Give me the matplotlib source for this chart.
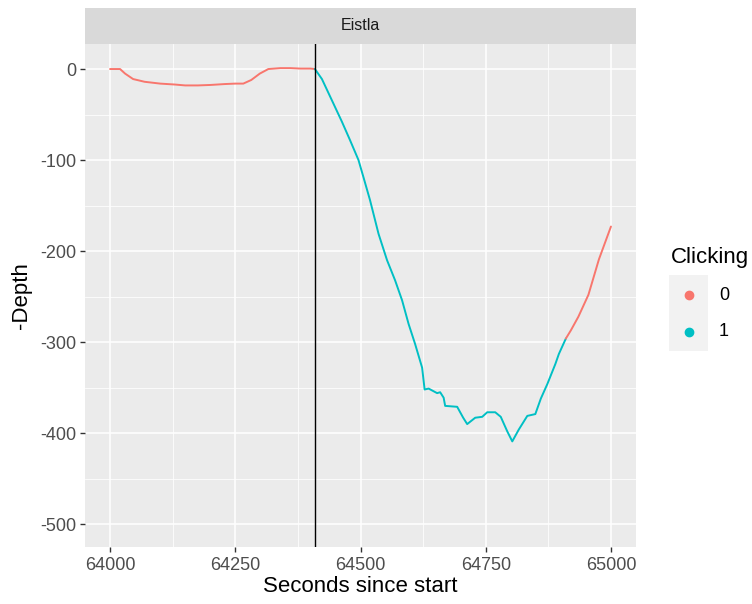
import matplotlib
matplotlib.use("Agg")
import matplotlib.pyplot as plt
from matplotlib.lines import Line2D
from matplotlib.patches import Rectangle

# ---- data ----
t_pre = [64000, 64010, 64020, 64030, 64046, 64069, 64100, 64129, 64150, 64175, 64200,
         64229, 64250, 64266, 64282, 64299, 64316, 64340, 64360, 64380, 64400, 64409]
d_pre = [0, 0, 0, -5, -11, -14, -16, -17, -18, -18, -17.5,
         -16.5, -16, -16, -12, -5, 0, 1, 1, 0.5, 0.5, 0]

t_click = [64409, 64423, 64446, 64463, 64479, 64496, 64506, 64519, 64536, 64553, 64569,
           64583, 64596, 64609, 64623, 64628, 64636, 64653, 64659, 64666, 64669, 64693,
           64705, 64713, 64729, 64743, 64753, 64769, 64780, 64793, 64803, 64816, 64833,
           64849, 64860, 64873, 64889, 64896, 64910]
d_click = [0, -11, -38, -58, -78, -100, -119, -144, -181, -210, -232,
           -254, -280, -302, -328, -352, -351, -356, -355, -361, -370, -371,
           -383, -390, -383, -382, -377, -377, -382, -398, -409, -396, -381,
           -379, -362, -346, -324, -313, -296]

t_post = [64910, 64920, 64935, 64955, 64976, 65000]
d_post = [-296, -287, -272, -248, -209, -173]

marker_time = 64409
facet_label = "Eistla"
legend_title = "Clicking"
legend_labels = ["0", "1"]
x_ticks = [64000, 64250, 64500, 64750, 65000]
y_ticks = [0, -100, -200, -300, -400, -500]

RED = "#F8766D"
CYAN = "#00BFC4"

plt.rcParams['font.family'] = ['Liberation Sans', 'DejaVu Sans']

W, H = 752, 604
fig = plt.figure(figsize=(W / 100, H / 100), dpi=100)

def fx(px):
    return px / W

def fy(py):
    return 1 - py / H

left, right, top, bottom = 85, 636, 44, 547
ax = fig.add_axes([fx(left), fy(bottom), fx(right) - fx(left), fy(top) - fy(bottom)])
ax.set_facecolor("#EBEBEB")
for s in ax.spines.values():
    s.set_visible(False)

ax.set_xlim(63950, 65050)
ax.set_ylim(-525, 27.5)
ax.set_xticks(x_ticks)
ax.set_xticklabels([str(v) for v in x_ticks])
ax.set_yticks(y_ticks)
ax.set_yticklabels([str(v) for v in y_ticks])
ax.set_xticks([64125, 64375, 64625, 64875], minor=True)
ax.set_yticks([-50, -150, -250, -350, -450], minor=True)
ax.grid(True, which="major", color="white", lw=1.1)
ax.grid(True, which="minor", color="white", lw=0.55)
ax.set_axisbelow(True)
ax.tick_params(which="major", length=3.5, width=1.0, color="#333333",
               labelcolor="#4D4D4D", labelsize=13, pad=3)
ax.tick_params(axis="x", which="major", pad=4)
ax.tick_params(which="minor", length=0)

ax.plot(t_pre, d_pre, color=RED, lw=1.4, solid_capstyle="round", solid_joinstyle="round")
ax.plot(t_click, d_click, color=CYAN, lw=1.4, solid_capstyle="round", solid_joinstyle="round")
ax.plot(t_post, d_post, color=RED, lw=1.4, solid_capstyle="round", solid_joinstyle="round")
ax.axvline(marker_time, color="black", lw=1.0)

ax.set_xlabel("Seconds since start", fontsize=16, color="black", labelpad=1)
ax.set_ylabel("-Depth", fontsize=16, color="black", labelpad=6)

# facet strip
strip = fig.add_axes([fx(left), fy(top), fx(right) - fx(left), fy(8) - fy(top)])
strip.set_facecolor("#D9D9D9")
strip.set_xticks([]); strip.set_yticks([])
for s in strip.spines.values():
    s.set_visible(False)
strip.text(0.5, 0.5, facet_label, ha="center", va="center", fontsize=11.5, color="#1A1A1A",
           transform=strip.transAxes)

# legend
fig.text(fx(671), fy(257), legend_title, fontsize=16, ha="left", va="center", color="black")
fig.add_artist(Rectangle((fx(669), fy(351)), fx(708) - fx(669), fy(275) - fy(351),
                         transform=fig.transFigure, facecolor="#F2F2F2", edgecolor="none"))
for col, lab, py in [(RED, legend_labels[0], 295), (CYAN, legend_labels[1], 332)]:
    fig.add_artist(Line2D([fx(689)], [fy(py)], marker="o", markersize=6, color=col,
                          transform=fig.transFigure, linestyle="none"))
    fig.text(fx(719), fy(py), lab, fontsize=13, ha="left", va="center", color="black")

fig.savefig("out.png", dpi=100)
